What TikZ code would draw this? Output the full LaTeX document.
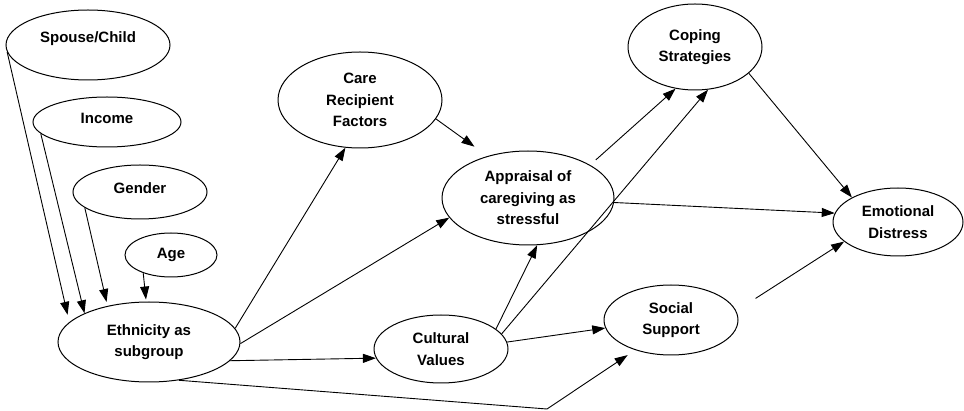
\documentclass[tikz,border=0pt]{standalone}
\usepackage{fontspec}
\setmainfont{Liberation Sans}
\usetikzlibrary{shapes.geometric,arrows.meta}
\begin{document}
\begin{tikzpicture}[x=1pt,y=-1pt,
  oval/.style={ellipse,draw,line width=1pt,inner sep=0pt,align=center,
    font=\fontsize{15}{21.5}\selectfont\bfseries},
  conn/.style={line width=0.9pt,-{Triangle[length=13pt,width=9pt]}},
]
\useasboundingbox (0,0) rectangle (964,411);
\node[oval,minimum width=164pt,minimum height=70pt] (sp) at (88,45) {\raisebox{16pt}{Spouse/Child}};
\node[oval,minimum width=148pt,minimum height=50pt] (inc) at (107,122) {\raisebox{8pt}{Income}};
\node[oval,minimum width=134pt,minimum height=54pt] (gen) at (140,192) {\raisebox{8pt}{Gender}};
\node[oval,minimum width=92pt,minimum height=44pt] (age) at (171,255) {Age};
\node[oval,minimum width=182pt,minimum height=80pt] (eth) at (149,342) {Ethnicity as\\subgroup};
\node[oval,minimum width=164pt,minimum height=96pt] (care) at (360,100) {Care\\Recipient\\Factors};
\node[oval,minimum width=172pt,minimum height=94pt] (app) at (528,198) {Appraisal of\\caregiving as\\stressful};
\node[oval,minimum width=134pt,minimum height=68pt] (cul) at (441,349) {Cultural\\Values};
\node[oval,minimum width=134pt,minimum height=70pt] (soc) at (671,320) {Social\\Support};
\node[oval,minimum width=134pt,minimum height=86pt] (cop) at (695,47) {Coping\\Strategies};
\node[oval,minimum width=130pt,minimum height=68pt] (emo) at (898,222) {Emotional\\Distress};
\coordinate (bend) at (547,409);

\draw[conn,shorten >=7.5pt] (sp.185) -- (eth.166);
\draw[conn] (inc.190) -- (eth.156);
\draw[conn,shorten >=4pt] (gen.196) -- (eth.139);
\draw[conn,shorten >=2pt] (age.213) -- (eth.94);
\draw[conn] (eth.9) -- (care.253);
\draw[conn] (eth.359) -- (app.194);
\draw[conn] (eth.347) -- (cul.188);
\draw[conn,shorten >=9pt] (eth.308) -- (bend) -- (soc.220);
\draw[conn,shorten >=16pt] (care.346) -- (app.134);
\draw[conn] (cul.20) -- (app.281);
\draw[conn] (cul.14) -- (cop.287);
\draw[conn] (cul.6) -- (soc.187);
\draw[conn,shorten <=7.5pt] (app.28) -- (cop.245);
\draw[conn] (app.357) -- (emo.172);
\draw[conn] (cop.334) -- (emo.152);
\draw[conn,shorten <=23pt] (soc.8) -- (emo.200);
\end{tikzpicture}
\end{document}
